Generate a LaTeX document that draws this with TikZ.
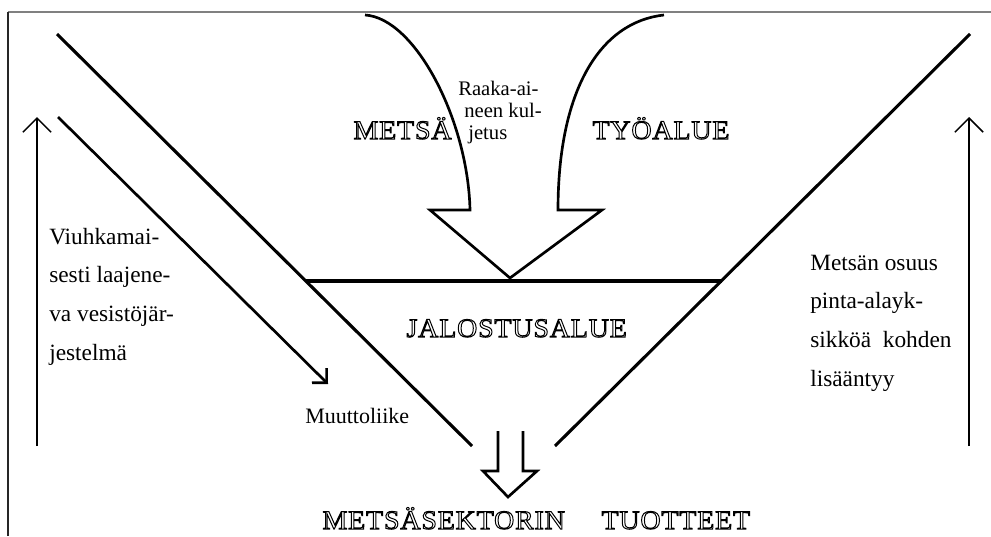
\documentclass[tikz,border=0pt]{standalone}
\usepackage{fontspec}
\setmainfont{Liberation Serif}
\usetikzlibrary{arrows.meta}
% hollow (outlined) capitals
\newcommand\hollow[1]{\special{pdf:literal direct 1 Tr}#1\special{pdf:literal direct 0 Tr}}

\begin{document}
\begin{tikzpicture}[x=0.75pt,y=-0.75pt,
           caps_style/.style={inner sep=0pt,anchor=base west,line width=0.75pt,
             font=\fontsize{20}{23}\selectfont\addfontfeature{FakeStretch=1.05,LetterSpace=3}},
           text_style/.style={inner sep=0pt,anchor=base west,font=\fontsize{15.5}{18}\selectfont},
           side_style/.style={inner sep=0pt,anchor=base west,align=left,
             font=\fontsize{17.5}{28.9}\selectfont},
           wedge_edge/.style={draw=black,line width=2.3pt},
           block_edge/.style={draw=black,line width=2pt,line join=miter},
           flow_edge/.style={draw=black,line width=2pt,-{Straight Barb[angle=90:11pt]}},
           rise_edge/.style={draw=black,line width=1.1pt,-{Straight Barb[angle=90:15pt]}}]
            \useasboundingbox (0,0) rectangle (991,536);
            % frame
            \draw[gray,line width=0.9pt] (8,12) -- (991,12);
            \draw[black!85,line width=0.9pt] (8,536) -- (8,12);
            % the V
            \coordinate (vl_top) at (57,34);
            \coordinate (vl_end) at (472,446);
            \coordinate (vr_top) at (970,34);
            \coordinate (vr_end) at (555,446);
            \coordinate (jl) at (306,281);
            \coordinate (jr) at (722,281);
            \draw[wedge_edge] (vl_top) -- (vl_end);
            \draw[wedge_edge] (vr_top) -- (vr_end);
            \draw[wedge_edge] (jl) -- (jr);
            % raw material arrow
            \coordinate (kl_top) at (365,15);
            \coordinate (kl_neck) at (470,210);
            \coordinate (kl_barb) at (430,210);
            \coordinate (k_tip) at (510,278);
            \coordinate (kr_barb) at (602,210);
            \coordinate (kr_neck) at (558,210);
            \coordinate (kr_top) at (664,15);
            \draw[block_edge] (kl_top) .. controls (415,18) and (468,120) .. (kl_neck)
                -- (kl_barb) -- (k_tip) -- (kr_barb) -- (kr_neck)
                .. controls (558,90) and (600,22) .. (kr_top);
            % products arrow
            \coordinate (pl_top) at (498,431);
            \coordinate (pl_neck) at (498,471);
            \coordinate (pl_barb) at (483,471);
            \coordinate (p_tip) at (508,497);
            \coordinate (pr_barb) at (537,471);
            \coordinate (pr_neck) at (523,471);
            \coordinate (pr_top) at (523,431);
            \draw[block_edge] (pl_top) -- (pl_neck) -- (pl_barb) -- (p_tip)
                -- (pr_barb) -- (pr_neck) -- (pr_top);
            % side arrows
            \coordinate (ml_start) at (58,117);
            \coordinate (ml_tip) at (328,384);
            \draw[flow_edge] (ml_start) -- (ml_tip);
            \coordinate (al_foot) at (37,446);
            \coordinate (al_head) at (37,117);
            \coordinate (ar_foot) at (969,446);
            \coordinate (ar_head) at (969,117);
            \draw[rise_edge] (al_foot) -- (al_head);
            \draw[rise_edge] (ar_foot) -- (ar_head);
            % labels
            \node[caps_style] (metsa) at (353,139) {\hollow{METSÄ}};
            \node[caps_style] (tyoalue) at (592,139) {\hollow{TYÖALUE}};
            \node[caps_style] (jalostus) at (406,337) {\hollow{JALOSTUSALUE}};
            \node[caps_style] (sektori) at (322,529) {\hollow{METSÄSEKTORIN}};
            \node[caps_style] (tuotteet) at (601,529) {\hollow{TUOTTEET}};
            \node[text_style] (raaka1) at (458,95) {Raaka-ai-};
            \node[text_style] (raaka2) at (464,117) {neen kul-};
            \node[text_style] (raaka3) at (468,139) {jetus};
            \node[text_style,font=\fontsize{16.5}{19}\selectfont] (muutto) at (305,423) {Muuttoliike};
            \node[side_style] (vesisto) at (49,360) {Viuhkamai-\\sesti laajene-\\va vesistöjär-\\jestelmä};
            \node[side_style] (osuus) at (810,386) {Metsän osuus\\pinta-alayk-\\sikköä\ \ kohden\\lisääntyy};
        \end{tikzpicture}
\end{document}
